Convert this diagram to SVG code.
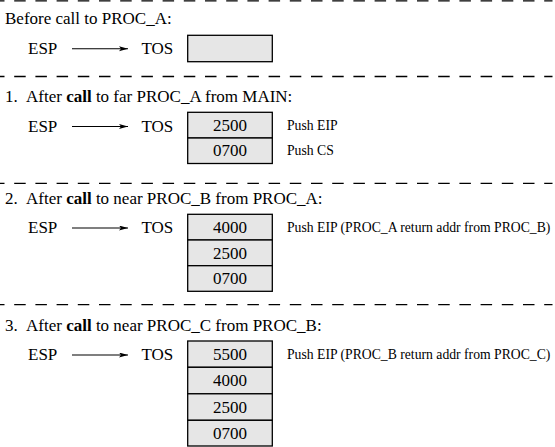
<svg xmlns="http://www.w3.org/2000/svg" width="555" height="447" viewBox="0 0 555 447">
<style>
  text { font-family: "Liberation Serif", "Times New Roman", serif; fill: #000; }
  .hd { font-size: 17px; }
  .b { font-weight: bold; }
  .lbl { font-size: 17px; }
  .num { font-size: 17px; text-anchor: middle; }
  .note { font-size: 13.7px; }
  .cell { fill: #e6e6e6; stroke: #000; stroke-width: 1.3; }
  .sep { stroke: #000; stroke-width: 1.3; stroke-dasharray: 11.5 9.7; stroke-dashoffset: 7; fill: none; }
  .arr { stroke: #000; stroke-width: 1.1; fill: none; marker-end: url(#ah); }
</style>
<defs>
  <marker id="ah" markerUnits="userSpaceOnUse" markerWidth="10" markerHeight="6" refX="9" refY="2.5" orient="auto">
    <path d="M0,0 L9,2.5 L0,5 L2,2.5 z" fill="#000"/>
  </marker>
</defs>
<rect width="555" height="447" fill="#fff"/>

<g id="separators">
  <line class="sep" x1="0" y1="0.8" x2="552.5" y2="0.8"/>
  <line class="sep" x1="0" y1="76.5" x2="552.5" y2="76.5"/>
  <line class="sep" x1="0" y1="183.3" x2="552.5" y2="183.3"/>
  <line class="sep" x1="0" y1="304.7" x2="552.5" y2="304.7"/>
</g>

<g id="connectors">
  <line class="arr" x1="72" y1="48.7" x2="128" y2="48.7"/>
  <line class="arr" x1="72" y1="126.5" x2="128" y2="126.5"/>
  <line class="arr" x1="72" y1="228" x2="128" y2="228"/>
  <line class="arr" x1="72" y1="355" x2="128" y2="355"/>
</g>

<g id="section0">
  <text class="hd" x="5" y="23.5">Before call to PROC_A:</text>
  <g id="s0-esp"><text class="lbl" x="28" y="54">ESP</text></g>
  <g id="s0-tos"><text class="lbl" x="141.5" y="54">TOS</text></g>
  <g id="s0-cell0"><rect class="cell" x="187.7" y="35.3" width="84.6" height="26.4"/></g>
</g>

<g id="section1">
  <text class="hd" x="5" y="101.5">1.</text>
  <text class="hd" x="26" y="101.5">After <tspan class="b">call</tspan> to far PROC_A from MAIN:</text>
  <g id="s1-esp"><text class="lbl" x="28" y="131.5">ESP</text></g>
  <g id="s1-tos"><text class="lbl" x="141.5" y="131.5">TOS</text></g>
  <g id="s1-cell0"><rect class="cell" x="187.7" y="112.3" width="84.6" height="25.7"/><text class="num" x="230" y="131">2500</text></g>
  <g id="s1-cell1"><rect class="cell" x="187.7" y="138" width="84.6" height="25.5"/><text class="num" x="230" y="156.4">0700</text></g>
  <text class="note" x="287" y="130">Push EIP</text>
  <text class="note" x="287" y="155">Push CS</text>
</g>

<g id="section2">
  <text class="hd" x="5" y="203.5">2.</text>
  <text class="hd" x="26" y="203.5">After <tspan class="b">call</tspan> to near PROC_B from PROC_A:</text>
  <g id="s2-esp"><text class="lbl" x="28" y="233">ESP</text></g>
  <g id="s2-tos"><text class="lbl" x="141.5" y="233">TOS</text></g>
  <g id="s2-cell0"><rect class="cell" x="187.7" y="214.3" width="84.6" height="25.7"/><text class="num" x="230" y="233">4000</text></g>
  <g id="s2-cell1"><rect class="cell" x="187.7" y="240" width="84.6" height="25.7"/><text class="num" x="230" y="258.7">2500</text></g>
  <g id="s2-cell2"><rect class="cell" x="187.7" y="265.7" width="84.6" height="25.6"/><text class="num" x="230" y="284.3">0700</text></g>
  <text class="note" x="287" y="232">Push EIP (PROC_A return addr from PROC_B)</text>
</g>

<g id="section3">
  <text class="hd" x="5" y="330.5">3.</text>
  <text class="hd" x="26" y="330.5">After <tspan class="b">call</tspan> to near PROC_C from PROC_B:</text>
  <g id="s3-esp"><text class="lbl" x="28" y="360">ESP</text></g>
  <g id="s3-tos"><text class="lbl" x="141.5" y="360">TOS</text></g>
  <g id="s3-cell0"><rect class="cell" x="187.7" y="341" width="84.6" height="26.3"/><text class="num" x="230" y="360">5500</text></g>
  <g id="s3-cell1"><rect class="cell" x="187.7" y="367.3" width="84.6" height="26.5"/><text class="num" x="230" y="386.4">4000</text></g>
  <g id="s3-cell2"><rect class="cell" x="187.7" y="393.8" width="84.6" height="26.5"/><text class="num" x="230" y="412.9">2500</text></g>
  <g id="s3-cell3"><rect class="cell" x="187.7" y="420.3" width="84.6" height="25.7"/><text class="num" x="230" y="439">0700</text></g>
  <text class="note" x="287" y="359">Push EIP (PROC_B return addr from PROC_C)</text>
</g>
</svg>
